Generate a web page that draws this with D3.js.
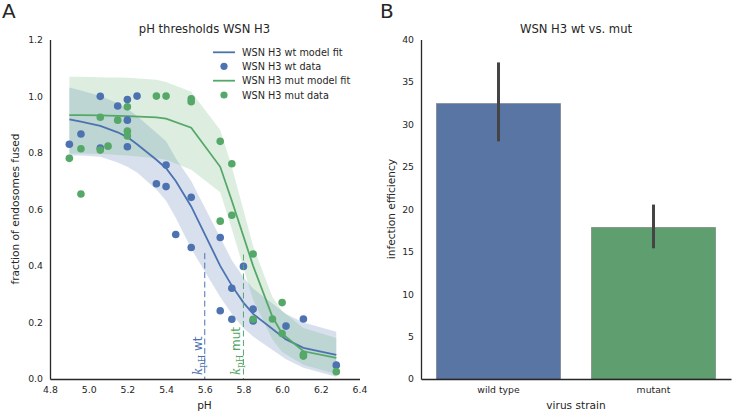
<!DOCTYPE html>
<html>
<head>
<meta charset="utf-8">
<script src="https://cdn.jsdelivr.net/npm/d3@7"></script>
<style>
  html, body { margin: 0; padding: 0; background: #fff; }
  svg { display: block; font-family: "DejaVu Sans", sans-serif; }
</style>
</head>
<body>
<svg id="chart" width="733" height="414"></svg>
<script>
// ---------- Panel A data ----------
const wtPH  = [4.9, 4.96, 5.06, 5.06, 5.15, 5.2, 5.2, 5.2, 5.25, 5.35, 5.4, 5.4, 5.45, 5.53, 5.53, 5.68, 5.68, 5.74, 5.74, 5.8, 5.85, 5.85, 6.02, 6.11, 6.28];
const wtVal = [0.83, 0.866, 0.999, 0.816, 0.965, 0.988, 0.915, 0.821, 1.0, 0.69, 0.756, 0.68, 0.511, 0.642, 0.465, 0.50, 0.241, 0.321, 0.211, 0.398, 0.247, 0.205, 0.187, 0.212, 0.049];

const mutPH  = [4.9, 4.96, 4.96, 5.06, 5.06, 5.1, 5.15, 5.2, 5.2, 5.2, 5.35, 5.4, 5.53, 5.53, 5.68, 5.74, 5.68, 5.74, 5.85, 5.85, 5.95, 6.0, 6.0, 6.11, 6.11, 6.28];
const mutVal = [0.78, 0.814, 0.654, 0.925, 0.809, 0.823, 0.915, 0.962, 0.876, 0.859, 1.0, 1.0, 0.99, 0.98, 0.84, 0.761, 0.558, 0.579, 0.442, 0.211, 0.212, 0.27, 0.161, 0.081, 0.087, 0.026];

const wtFitPH = [4.9, 4.96, 5.06, 5.15, 5.2, 5.25, 5.35, 5.4, 5.45, 5.53, 5.68, 5.74, 5.8, 5.85, 6.02, 6.11, 6.28];
const wtFit   = [0.918, 0.91, 0.895, 0.872, 0.855, 0.83, 0.775, 0.745, 0.70, 0.61, 0.40, 0.33, 0.27, 0.23, 0.14, 0.11, 0.085];
const wtHi    = [1.03, 1.02, 1.0, 0.975, 0.955, 0.93, 0.87, 0.84, 0.78, 0.70, 0.50, 0.42, 0.36, 0.32, 0.23, 0.20, 0.167];
const wtLo    = [0.79, 0.79, 0.786, 0.765, 0.75, 0.73, 0.67, 0.63, 0.57, 0.46, 0.29, 0.23, 0.18, 0.15, 0.07, 0.04, 0.008];

const mutFitPH = [4.9, 4.96, 5.06, 5.1, 5.15, 5.2, 5.35, 5.4, 5.53, 5.68, 5.74, 5.85, 5.95, 6.0, 6.11, 6.28];
const mutFit   = [0.933, 0.933, 0.932, 0.931, 0.93, 0.929, 0.925, 0.92, 0.888, 0.75, 0.63, 0.40, 0.22, 0.16, 0.098, 0.075];
const mutHi    = [1.068, 1.068, 1.067, 1.066, 1.066, 1.065, 1.058, 1.05, 1.015, 0.88, 0.75, 0.47, 0.29, 0.24, 0.18, 0.145];
const mutLo    = [0.797, 0.797, 0.795, 0.794, 0.792, 0.79, 0.78, 0.775, 0.74, 0.66, 0.53, 0.28, 0.14, 0.095, 0.05, 0.018];

const kPH   = [5.6, 5.8];
const kTop  = [0.445, 0.44];
const kName = ["wt", "mut"];

const xTicksA = [4.8, 5.0, 5.2, 5.4, 5.6, 5.8, 6.0, 6.2, 6.4];
const yTicksA = [0.0, 0.2, 0.4, 0.6, 0.8, 1.0, 1.2];

const legendLabels = ["WSN H3 wt model fit", "WSN H3 wt data", "WSN H3 mut model fit", "WSN H3 mut data"];

// ---------- Panel B data ----------
const strains = ["wild type", "mutant"];
const efficiency = [32.45, 17.85];
const ciLow  = [28.0, 15.4];
const ciHigh = [37.3, 20.55];
const yTicksB = [0, 5, 10, 15, 20, 25, 30, 35, 40];

// ---------- styling ----------
const BLUE = "#4C72B0", GREEN = "#55A868";
const BAR_COLORS = ["#5975A4", "#5F9E6E"];
const TXT = "#262626";

const svg = d3.select("#chart");

// ================= Panel A =================
const x = d3.scaleLinear().domain([4.8, 6.4]).range([50, 359.5]);
const y = d3.scaleLinear().domain([0, 1.2]).range([379, 39.5]);

const gA = svg.append("g");

function band(ph, lo, hi) {
  return d3.area().x((d, i) => x(ph[i])).y0((d, i) => y(lo[i])).y1((d, i) => y(hi[i]))(ph);
}
function fitLine(ph, v) {
  return d3.line().x((d, i) => x(ph[i])).y((d, i) => y(v[i]))(ph);
}

gA.append("path").attr("d", band(wtFitPH, wtLo, wtHi)).attr("fill", BLUE).attr("fill-opacity", 0.22);
gA.append("path").attr("d", band(mutFitPH, mutLo, mutHi)).attr("fill", GREEN).attr("fill-opacity", 0.2);

gA.append("path").attr("d", fitLine(wtFitPH, wtFit)).attr("fill", "none").attr("stroke", BLUE).attr("stroke-width", 1.8);
gA.append("path").attr("d", fitLine(mutFitPH, mutFit)).attr("fill", "none").attr("stroke", GREEN).attr("stroke-width", 1.8);

gA.selectAll("circle.wt").data(wtPH).enter().append("circle")
  .attr("cx", (d) => x(d)).attr("cy", (d, i) => y(wtVal[i])).attr("r", 3.8).attr("fill", BLUE);
gA.selectAll("circle.mut").data(mutPH).enter().append("circle")
  .attr("cx", (d) => x(d)).attr("cy", (d, i) => y(mutVal[i])).attr("r", 3.8).attr("fill", GREEN);

// k_pH markers
kPH.forEach((k, i) => {
  const col = i === 0 ? BLUE : GREEN;
  gA.append("line")
    .attr("x1", x(k)).attr("x2", x(k)).attr("y1", y(kTop[i])).attr("y2", y(0))
    .attr("stroke", col).attr("stroke-width", 1).attr("stroke-dasharray", "6,3.5");
  const t = gA.append("text")
    .attr("transform", `translate(${x(k) - 3},${y(0) - 4}) rotate(-90)`)
    .attr("fill", col).attr("font-size", 12);
  t.append("tspan").attr("font-family", "DejaVu Serif").attr("font-style", "italic").text("k");
  t.append("tspan").attr("font-family", "DejaVu Serif").attr("font-size", 8.5).attr("dy", 3).text("pH");
  t.append("tspan").attr("dy", -3).text(" " + kName[i]);
});

// axes A
const axAx = d3.axisBottom(x).tickValues(xTicksA).tickFormat(d3.format(".1f")).tickSize(0).tickPadding(7);
const axAy = d3.axisLeft(y).tickValues(yTicksA).tickFormat(d3.format(".1f")).tickSize(0).tickPadding(7);
const gxA = gA.append("g").attr("transform", "translate(0,379)").call(axAx);
const gyA = gA.append("g").attr("transform", "translate(50,0)").call(axAy);
[gxA, gyA].forEach(g => {
  g.select(".domain").attr("stroke", TXT).attr("stroke-width", 1.3);
  g.selectAll("text").attr("fill", TXT).attr("font-size", 9.3).attr("font-family", "DejaVu Sans");
});

gA.append("text").attr("x", 204.5).attr("y", 33).attr("text-anchor", "middle")
  .attr("font-size", 11.6).attr("fill", TXT).text("pH thresholds WSN H3");
gA.append("text").attr("x", 204.5).attr("y", 409).attr("text-anchor", "middle")
  .attr("font-size", 10.6).attr("fill", TXT).text("pH");
gA.append("text").attr("transform", "translate(19,209) rotate(-90)").attr("text-anchor", "middle")
  .attr("font-size", 10.6).attr("fill", TXT).text("fraction of endosomes fused");
gA.append("text").attr("x", 2).attr("y", 18).attr("font-size", 20).attr("fill", TXT).text("A");

// legend
const legY = [52.3, 66.3, 80.7, 95];
legendLabels.forEach((lab, i) => {
  const col = i < 2 ? BLUE : GREEN;
  if (i % 2 === 0) {
    gA.append("line").attr("x1", 213).attr("x2", 235).attr("y1", legY[i]).attr("y2", legY[i])
      .attr("stroke", col).attr("stroke-width", 1.8);
  } else {
    gA.append("circle").attr("cx", 224).attr("cy", legY[i]).attr("r", 3.6).attr("fill", col);
  }
  gA.append("text").attr("x", 242).attr("y", legY[i] + 3.5).attr("font-size", 9.7).attr("fill", TXT).text(lab);
});

// ================= Panel B =================
const xb = d3.scaleBand().domain(strains).range([421, 731]).paddingInner(0.2).paddingOuter(0.1);
const yb = d3.scaleLinear().domain([0, 40]).range([379, 39.5]);
const gB = svg.append("g");

gB.selectAll("rect.bar").data(strains).enter().append("rect")
  .attr("x", d => xb(d)).attr("width", xb.bandwidth())
  .attr("y", (d, i) => yb(efficiency[i])).attr("height", (d, i) => yb(0) - yb(efficiency[i]))
  .attr("fill", (d, i) => BAR_COLORS[i]).attr("stroke", "rgba(70,70,70,0.45)").attr("stroke-width", 0.8);

gB.selectAll("line.err").data(strains).enter().append("line")
  .attr("x1", d => xb(d) + xb.bandwidth() / 2).attr("x2", d => xb(d) + xb.bandwidth() / 2)
  .attr("y1", (d, i) => yb(ciLow[i])).attr("y2", (d, i) => yb(ciHigh[i]))
  .attr("stroke", "#444").attr("stroke-width", 3);

const axBx = d3.axisBottom(xb).tickSize(0).tickPadding(7);
const axBy = d3.axisLeft(yb).tickValues(yTicksB).tickFormat(d3.format("d")).tickSize(0).tickPadding(7);
const gxB = gB.append("g").attr("transform", "translate(0,379)").call(axBx);
const gyB = gB.append("g").attr("transform", "translate(421,0)").call(axBy);
[gxB, gyB].forEach(g => {
  g.select(".domain").attr("stroke", TXT).attr("stroke-width", 1.3);
  g.selectAll("text").attr("fill", TXT).attr("font-size", 9.3).attr("font-family", "DejaVu Sans");
});

gB.append("text").attr("x", 576).attr("y", 33).attr("text-anchor", "middle")
  .attr("font-size", 11.6).attr("fill", TXT).text("WSN H3 wt vs. mut");
gB.append("text").attr("x", 576).attr("y", 409).attr("text-anchor", "middle")
  .attr("font-size", 10.6).attr("fill", TXT).text("virus strain");
gB.append("text").attr("transform", "translate(394.5,209) rotate(-90)").attr("text-anchor", "middle")
  .attr("font-size", 10.6).attr("fill", TXT).text("infection efficiency");
gB.append("text").attr("x", 380).attr("y", 18).attr("font-size", 20).attr("fill", TXT).text("B");
</script>
</body>
</html>
